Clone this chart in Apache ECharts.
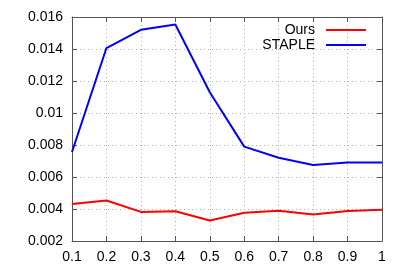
<!DOCTYPE html>
<html><head><meta charset="utf-8">
<script src="https://cdn.jsdelivr.net/npm/echarts@6/dist/echarts.min.js"></script>
<style>html,body{margin:0;padding:0;background:#fff}#c{width:407px;height:271px}</style>
</head><body><div id="c"></div>
<script>
const categories = ['0.1','0.2','0.3','0.4','0.5','0.6','0.7','0.8','0.9','1'];
const ours = [0.00432, 0.00453, 0.00382, 0.00386, 0.00328, 0.00376, 0.00389, 0.00365, 0.00387, 0.00395];
const staple = [0.00756, 0.01406, 0.0152, 0.01553, 0.0113, 0.0079, 0.0072, 0.00675, 0.0069, 0.0069];
const yTicks = [0.002, 0.004, 0.006, 0.008, 0.01, 0.012, 0.014, 0.016];

const font = 'Liberation Sans, Arial, sans-serif';
const frame = {show: true, lineStyle: {color: '#555', width: 1}};
const grid = {show: true, lineStyle: {color: '#b0b0b0', type: [1, 3], width: 1}};
const chart = echarts.init(document.getElementById('c'));
chart.setOption({
  animation: false,
  grid: {left: 72, right: 25, top: 17, bottom: 30},
  legend: [
    {data: ['Ours'], right: 41, top: 23, padding: 0, align: 'right', itemWidth: 40, itemHeight: 2, icon: 'rect',
     textStyle: {fontFamily: font, fontSize: 14, color: '#000', padding: [0, 6, 0, 0]}},
    {data: ['STAPLE'], right: 41, top: 38, padding: 0, align: 'right', itemWidth: 40, itemHeight: 2, icon: 'rect',
     textStyle: {fontFamily: font, fontSize: 14, color: '#000', padding: [0, 6, 0, 0]}}
  ],
  xAxis: [
    {type: 'category', data: categories, boundaryGap: false, axisLine: frame,
     axisTick: {show: true, inside: true, length: 5, alignWithLabel: true, lineStyle: {color: '#555'}},
     axisLabel: {fontFamily: font, fontSize: 14, color: '#000', margin: 9}, splitLine: grid},
    {type: 'category', data: categories, boundaryGap: false, position: 'top', axisLine: frame,
     axisTick: {show: true, inside: true, length: 5, lineStyle: {color: '#555'}},
     axisLabel: {show: false}, splitLine: {show: false}}
  ],
  yAxis: [
    {type: 'value', min: yTicks[0], max: yTicks[yTicks.length - 1], interval: 0.002, axisLine: frame,
     axisTick: {show: true, inside: true, length: 5, lineStyle: {color: '#555'}},
     axisLabel: {fontFamily: font, fontSize: 14, color: '#000', margin: 9,
       formatter: v => String(+v.toFixed(3))}, splitLine: grid},
    {type: 'value', min: yTicks[0], max: yTicks[yTicks.length - 1], interval: 0.002, position: 'right', axisLine: frame,
     axisTick: {show: true, inside: true, length: 5, lineStyle: {color: '#555'}},
     axisLabel: {show: false}, splitLine: {show: false}}
  ],
  series: [
    {name: 'Ours', type: 'line', data: ours, symbol: 'none', lineStyle: {color: '#ff0000', width: 2}, itemStyle: {color: '#ff0000'}},
    {name: 'STAPLE', type: 'line', data: staple, symbol: 'none', lineStyle: {color: '#0000ff', width: 2}, itemStyle: {color: '#0000ff'}}
  ]
});
</script></body></html>
